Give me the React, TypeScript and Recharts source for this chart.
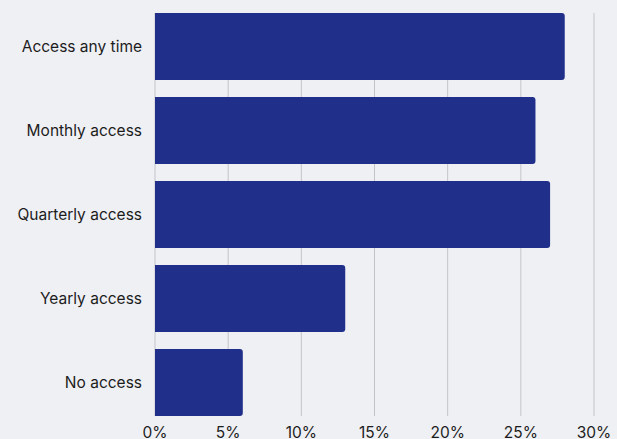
import { BarChart, Bar, XAxis, YAxis, CartesianGrid } from "recharts";

const categories = [
  "Access any time",
  "Monthly access",
  "Quarterly access",
  "Yearly access",
  "No access",
];
const shares = [28, 26, 27, 13, 6];
const xTicks = [0, 5, 10, 15, 20, 25, 30];

const data = categories.map((name, i) => ({ name, value: shares[i] }));

export default function App() {
  return (
    <div
      style={{
        position: "absolute",
        left: 0,
        top: 0,
        width: 617,
        height: 439,
        background: "#eff0f4",
        fontFamily: "Inter, sans-serif",
      }}
    >
      <BarChart
        width={617}
        height={439}
        data={data}
        layout="vertical"
        margin={{ top: 4.5, right: 23, bottom: 0, left: 0 }}
        barCategoryGap="10%"
      >
        <CartesianGrid
          horizontal={false}
          stroke="#c4c4c8"
          y={13}
          height={403}
        />
        <XAxis
          type="number"
          domain={[0, 30]}
          ticks={xTicks}
          tickFormatter={(v) => `${v}%`}
          axisLine={false}
          tickLine={false}
          tickSize={0}
          tickMargin={2}
          height={14.5}
          interval={0}
          tick={{ fill: "#1c1c1c", fontSize: 15.5 }}
        />
        <YAxis
          type="category"
          dataKey="name"
          width={155}
          axisLine={false}
          tickLine={false}
          tickSize={0}
          tickMargin={13}
          tick={{ fill: "#1c1c1c", fontSize: 15.5 }}
        />
        <Bar
          dataKey="value"
          fill="#1f2f8a"
          radius={[0, 3, 3, 0]}
          isAnimationActive={false}
        />
      </BarChart>
    </div>
  );
}
